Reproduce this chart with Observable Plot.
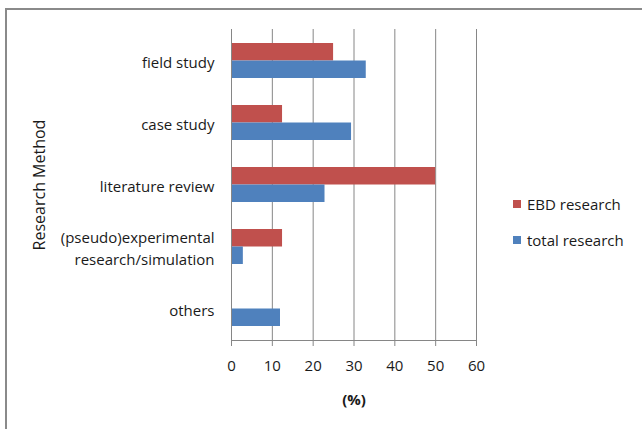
<!DOCTYPE html>
<html>
<head>
<meta charset="utf-8">
<script src="https://cdn.jsdelivr.net/npm/d3@7"></script>
<script src="https://cdn.jsdelivr.net/npm/@observablehq/plot@0.6"></script>
<style>
  html, body { margin: 0; padding: 0; background: #fff; }
  #wrap { position: relative; width: 642px; height: 429px; overflow: hidden; font-family: "Open Sans", sans-serif; }
  #frame { position: absolute; left: 5px; top: 8px; width: 700px; height: 500px; border-top: 2px solid #8a8a8a; border-left: 2px solid #8a8a8a; }
  #chart { position: absolute; left: 0; top: 0; }
  #legend { position: absolute; left: 513px; top: 194px; font-size: 15px; color: #1a1a1a; }
  #legend .item { display: flex; align-items: center; height: 20px; margin-bottom: 16px; }
  #legend .sw { width: 8px; height: 8px; margin-right: 6px; }
  [aria-label="x-axis label"] { font-weight: bold; }
  [aria-label="y-axis label"] { font-size: 16px; }
</style>
</head>
<body>
<div id="wrap">
  <div id="frame"></div>
  <div id="chart"></div>
  <div id="legend"></div>
</div>
<script>
const categories = ["field study", "case study", "literature review", "(pseudo)experimental\nresearch/simulation", "others"];
const seriesNames = ["EBD research", "total research"];
const seriesColors = ["#C0504D", "#4F81BD"];
const ebdValues = [25, 12.5, 50, 12.5, 0];
const totalValues = [33, 29.4, 22.9, 2.9, 12];
const xTicks = [0, 10, 20, 30, 40, 50, 60];

const ebd = categories.map((c, i) => ({category: c, value: ebdValues[i]}));
const total = categories.map((c, i) => ({category: c, value: totalValues[i]}));

const half = 17.5;

const chart = Plot.plot({
  width: 642,
  height: 429,
  marginLeft: 231,
  marginRight: 166,
  marginTop: 29,
  marginBottom: 89,
  style: {fontFamily: "'Open Sans', sans-serif", fontSize: "15px", color: "#1a1a1a", background: "transparent"},
  x: {domain: [0, 60], ticks: xTicks},
  y: {domain: categories, paddingInner: 0.437, paddingOuter: 0.2185},
  marks: [
    Plot.gridX(xTicks, {stroke: "#868686", strokeOpacity: 1}),
    Plot.barX(ebd, {y: "category", x: "value", fill: seriesColors[0], insetBottom: half}),
    Plot.barX(total, {y: "category", x: "value", fill: seriesColors[1], insetTop: half}),
    Plot.ruleX([0], {stroke: "#868686"}),
    Plot.frame({anchor: "bottom", stroke: "#868686"}),
    Plot.axisX({ticks: xTicks, tickSize: 6, tickPadding: 14, stroke: "#868686", label: "(%)", labelAnchor: "center", labelArrow: "none", labelOffset: 64}),
    Plot.axisY({tickSize: 0, tickPadding: 17, lineHeight: 1.5, label: "Research Method", labelAnchor: "center", labelArrow: "none", labelOffset: 198})
  ]
});
document.getElementById("chart").appendChild(chart);

const legend = document.getElementById("legend");
seriesNames.forEach((name, i) => {
  const item = document.createElement("div");
  item.className = "item";
  const sw = document.createElement("span");
  sw.className = "sw";
  sw.style.background = seriesColors[i];
  item.appendChild(sw);
  item.appendChild(document.createTextNode(name));
  legend.appendChild(item);
});
</script>
</body>
</html>
